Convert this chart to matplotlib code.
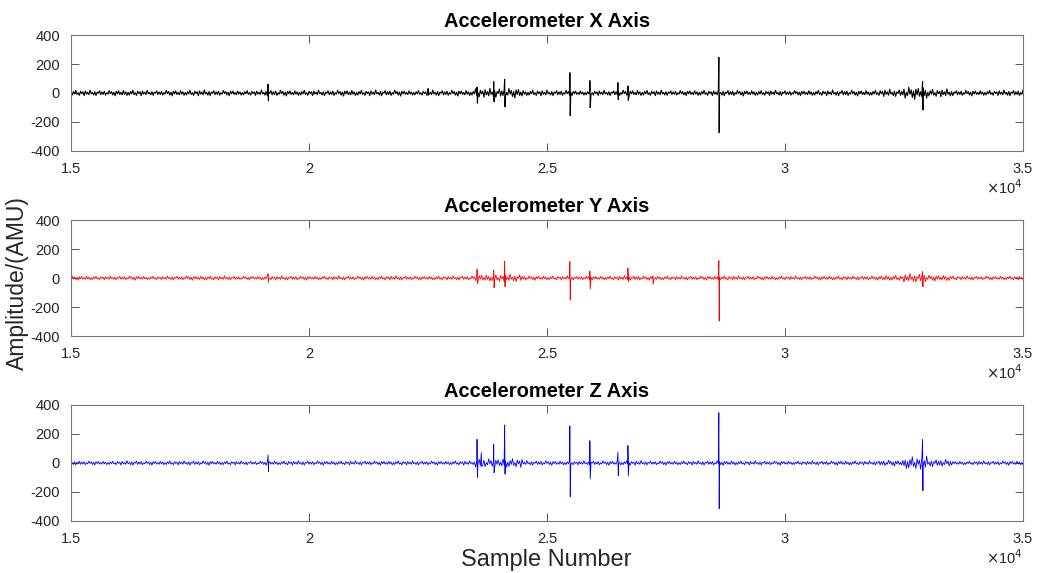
import numpy as np
import matplotlib
matplotlib.use("Agg")
import matplotlib.pyplot as plt

plt.rcParams['font.family'] = ['Liberation Sans', 'DejaVu Sans']
plt.rcParams['axes.unicode_minus'] = False

# sample range shown on every panel
x_start, x_stop, x_step = 15000, 35000, 25

# typical shape of one stretch of background noise (normalised)
wiggle = [0.2, -0.7, 0.5, -0.3, 0.9, -0.5, 0.1, -0.8, 0.6, -0.2, 0.4, -0.9,
          0.7, -0.4, 0.3, -0.6, 1.0, -0.3, 0.2, -0.7, 0.5, -0.9, 0.3, -0.1,
          0.8, -0.6, 0.4, -0.5, 0.6, -0.8, 0.1, -0.4, 0.9, -0.2, 0.5, -0.7,
          0.3, -1.0, 0.6, -0.3, 0.7, -0.5, 0.2, -0.6, 0.8, -0.4, 0.4, -0.8]

# background noise level per 500-sample block (40 blocks, 15000..35000)
x_level = [20, 19, 21, 18, 20, 21, 19, 18, 21, 20, 19, 21, 20, 21, 18, 20, 21,
           32, 34, 21, 20, 18, 19, 21, 20, 18, 20, 21, 20, 19, 18, 20, 21, 20,
           26, 44, 28, 20, 19, 21]
y_level = [15, 14, 15, 13, 15, 16, 15, 13, 15, 15, 14, 15, 15, 16, 14, 15, 16,
           26, 28, 16, 15, 14, 15, 17, 15, 14, 15, 16, 15, 15, 14, 15, 15, 15,
           20, 32, 22, 15, 14, 15]
z_level = [15, 14, 16, 15, 15, 16, 15, 14, 15, 16, 15, 15, 15, 16, 15, 15, 16,
           32, 34, 17, 16, 15, 16, 17, 15, 15, 16, 17, 15, 15, 14, 15, 16, 15,
           22, 48, 28, 15, 15, 16]

# isolated spikes: sample index, positive peak, negative peak
x_spike_at = [19140, 22500, 23530, 23880, 24110, 25480, 25900, 26490, 26700, 28610, 32890]
x_spike_hi = [60, 30, 40, 78, 95, 140, 85, 71, 48, 246, 78]
x_spike_lo = [-55, -15, -70, -60, -95, -155, -100, -45, -50, -274, -117]

y_spike_at = [19140, 23530, 23880, 24110, 25480, 25900, 26700, 27220, 28610, 32890]
y_spike_hi = [30, 60, 55, 117, 113, 48, 67, 15, 120, 45]
y_spike_lo = [-30, -37, -67, -60, -152, -76, -25, -44, -297, -60]

z_spike_at = [19140, 23530, 23620, 23880, 24110, 25480, 25900, 26490, 26700, 28610, 32890]
z_spike_hi = [55, 163, 71, 131, 262, 255, 154, 74, 120, 347, 163]
z_spike_lo = [-60, -99, -25, -67, -76, -232, -110, -87, -90, -315, -191]

titles = ['Accelerometer X Axis', 'Accelerometer Y Axis', 'Accelerometer Z Axis']
colors = ['black', 'red', 'blue']
xtick_vals = [15000, 20000, 25000, 30000, 35000]
xtick_text = ['1.5', '2', '2.5', '3', '3.5']
ytick_vals = [-400, -200, 0, 200, 400]


def build_signal(level, spike_at, spike_hi, spike_lo, shift):
    xs = np.arange(x_start, x_stop + 1, x_step)
    pattern = np.roll(np.array(wiggle), shift)
    blocks = np.minimum((xs - x_start) // 500, len(level) - 1)
    ys = np.array(level)[blocks] * pattern[np.arange(len(xs)) % len(pattern)]
    at = np.array(spike_at)
    xs = np.concatenate([xs, at, at + 8])
    ys = np.concatenate([ys, spike_hi, spike_lo])
    order = np.argsort(xs, kind='stable')
    return xs[order], ys[order]


signals = [
    build_signal(x_level, x_spike_at, x_spike_hi, x_spike_lo, 0),
    build_signal(y_level, y_spike_at, y_spike_hi, y_spike_lo, 17),
    build_signal(z_level, z_spike_at, z_spike_hi, z_spike_lo, 31),
]
widths = [0.8, 0.6, 0.6]

fig = plt.figure(figsize=(10.49, 5.73), dpi=100)
bottoms = [0.7365, 0.4136, 0.0908]
axes = [fig.add_axes([0.0677, b, 0.9075, 0.2024]) for b in bottoms]

for ax, (xs, ys), title, col, lw in zip(axes, signals, titles, colors, widths):
    ax.plot(xs, ys, color=col, lw=lw)
    ax.set_xlim(x_start, x_stop)
    ax.set_ylim(-400, 400)
    ax.set_xticks(xtick_vals)
    ax.set_xticklabels(xtick_text)
    ax.set_yticks(ytick_vals)
    ax.tick_params(direction='in', top=True, right=True, length=6, width=0.7,
                   colors='#555555', labelcolor='#262626', labelsize=10.5)
    ax.tick_params(axis='x', pad=8)
    ax.tick_params(axis='y', pad=8)
    for sp in ax.spines.values():
        sp.set_color('#777777')
        sp.set_linewidth(0.8)
    ax.set_title(title, fontsize=14.5, fontweight='bold', pad=6)
    ax.text(1.0, -0.32, r'$\times$10$^4$', transform=ax.transAxes, ha='right',
            va='center', fontsize=10.5, color='#262626')

fig.text(0.017, 0.506, 'Amplitude/(AMU)', rotation=90, ha='center', va='center',
         fontsize=16.5, color='#262626')
fig.text(0.521, 0.023, 'Sample Number', ha='center', va='center',
         fontsize=17, color='#262626')

fig.savefig('out.png', dpi=100)
